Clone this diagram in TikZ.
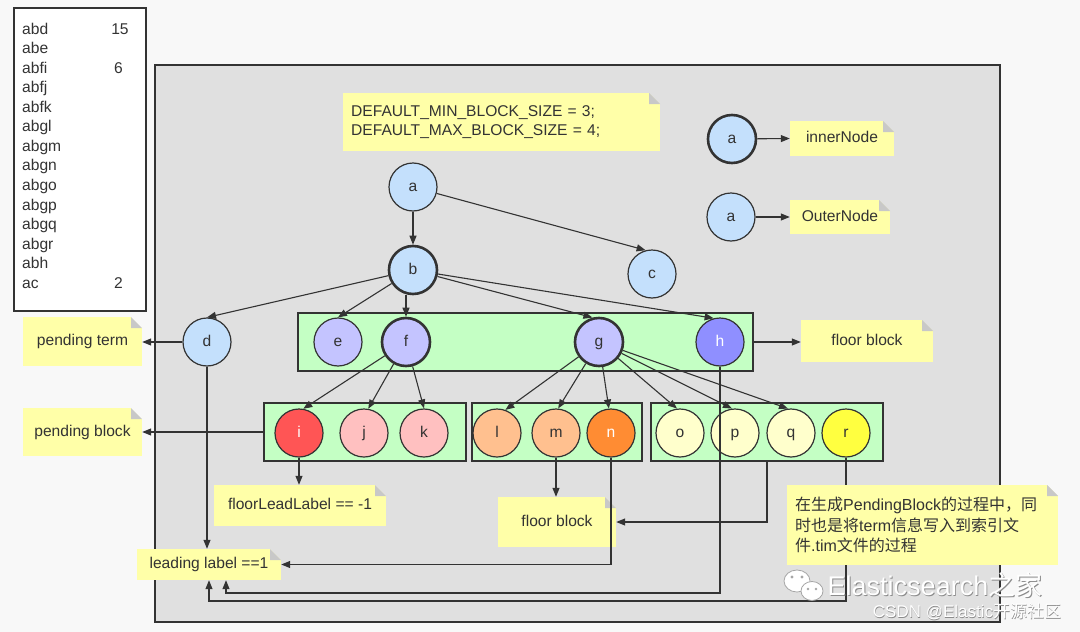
\documentclass[tikz,border=0pt]{standalone}
\usepackage{fontspec}
\setmainfont{Liberation Sans}
\newfontfamily\cjk{Noto Sans CJK SC}
\usetikzlibrary{arrows.meta}
\definecolor{bg}{HTML}{F8F8F8}
\definecolor{boxgray}{HTML}{E0E0E0}
\definecolor{edge}{HTML}{333333}
\definecolor{notey}{HTML}{FFFFA8}
\definecolor{fold}{HTML}{C8C8C8}
\definecolor{blockgreen}{HTML}{C4FFC4}
\definecolor{nblue}{HTML}{C4E0FC}
\definecolor{nlav}{HTML}{C4C4FF}
\definecolor{nh}{HTML}{8F8FFF}
\definecolor{ni}{HTML}{FF5555}
\definecolor{npink}{HTML}{FFC0C0}
\definecolor{npeach}{HTML}{FFC08F}
\definecolor{nn}{HTML}{FF8C33}
\definecolor{nyel}{HTML}{FFFFCC}
\definecolor{nr}{HTML}{FFFF40}
\begin{document}
\begin{tikzpicture}[x=1pt,y=-1pt,
  font=\fontsize{15.6}{19}\selectfont,
  tnode/.style={circle, draw=edge, line width=1.2pt, minimum size=48pt, inner sep=0pt,
    text=edge, text height=0.86em, text depth=0em},
  innerring/.style={line width=2.6pt},
  blockbox/.style={draw=edge, line width=1.2pt, fill=blockgreen, inner sep=0pt},
  arr/.style={draw=edge, line width=1.1pt, -{Triangle[length=9pt,width=7pt]}},
  notebox/.style={fill=notey, inner sep=0pt, text=edge,
    path picture={
      \fill[#1] ([xshift=-11pt]path picture bounding box.north east) --
        (path picture bounding box.north east) --
        ([yshift=-11pt]path picture bounding box.north east) -- cycle;
      \fill[fold] ([xshift=-11pt]path picture bounding box.north east) --
        ([yshift=-11pt]path picture bounding box.north east) --
        ([xshift=-11pt,yshift=-11pt]path picture bounding box.north east) -- cycle;
    }},
  notebox/.default=boxgray,
  oneline/.style={text height=0.86em, text depth=0em},
  wmtext/.style={text=white, inner sep=0pt},
  wmshadow/.style={text=black!45, inner sep=0pt}
]
\useasboundingbox (0,0) rectangle (1080,632);
\fill[bg] (0,0) rectangle (1080,632);

% term list
\draw[fill=white, draw=edge, line width=1.3pt] (14,8) rectangle (146,311);
\foreach \t [count=\k from 0] in {abd,abe,abfi,abfj,abfk,abgl,abgm,abgn,abgo,abgp,abgq,abgr,abh,ac}{
  \node[anchor=base west, inner sep=0pt, text=edge] (lst\k) at (22,{34+19.57*\k}) {\t};
}
\node[anchor=base, inner sep=0pt, text=edge] (num1) at (120,34) {15};
\node[anchor=base, inner sep=0pt, text=edge] (num2) at (118.5,73.1) {6};
\node[anchor=base, inner sep=0pt, text=edge] (num3) at (118.5,288.4) {2};

% main gray area
\draw[draw=edge, fill=boxgray, line width=1.4pt] (155,65) rectangle (1000,622);

% green blocks
\node[blockbox, minimum width=455pt, minimum height=58pt] (box1) at (525.5,342) {};
\node[blockbox, minimum width=202pt, minimum height=58pt] (box2) at (365,432) {};
\node[blockbox, minimum width=170pt, minimum height=58pt] (box3) at (557,432) {};
\node[blockbox, minimum width=232pt, minimum height=58pt] (box4) at (767,432) {};

% tree nodes
\node[tnode, fill=nblue] (a) at (413,187) {a};
\node[tnode, innerring, fill=nblue] (b) at (413,270) {b};
\node[tnode, fill=nblue] (c) at (652,274) {c};
\node[tnode, fill=nblue] (d) at (207,342) {d};
\node[tnode, fill=nlav] (e) at (338,342) {e};
\node[tnode, innerring, fill=nlav] (f) at (406,342) {f};
\node[tnode, innerring, fill=nlav] (g) at (599,342) {g};
\node[tnode, fill=nh, text=white] (h) at (720,342) {h};
\node[tnode, fill=ni, text=white] (i) at (299,433) {i};
\node[tnode, fill=npink] (j) at (364,433) {j};
\node[tnode, fill=npink] (k) at (424,433) {k};
\node[tnode, fill=npeach] (l) at (497,433) {l};
\node[tnode, fill=npeach] (m) at (556,433) {m};
\node[tnode, fill=nn, text=white] (n) at (611,433) {n};
\node[tnode, fill=nyel] (o) at (680,433) {o};
\node[tnode, fill=nyel] (p) at (735,433) {p};
\node[tnode, fill=nyel] (q) at (791,433) {q};
\node[tnode, fill=nr] (r) at (846,433) {r};

% legend nodes
\node[tnode, innerring, fill=nblue] (ia) at (732,139) {a};
\node[tnode, fill=nblue] (oa) at (731,217) {a};

% notes
\node[notebox, anchor=north west, minimum height=58pt, text width=301pt, inner xsep=8pt, align=left] (def) at (343,93)
  {DEFAULT\_MIN\_BLOCK\_SIZE = 3;\\DEFAULT\_MAX\_BLOCK\_SIZE = 4;};
\node[notebox, oneline, minimum width=104pt, minimum height=35pt] (inn) at (842,138.5) {innerNode};
\node[notebox, oneline, minimum width=100pt, minimum height=34pt] (outn) at (840,217) {OuterNode};
\node[notebox=bg, oneline, minimum width=119pt, minimum height=49pt] (pt) at (82.5,341.5) {pending term};
\node[notebox=bg, oneline, minimum width=119pt, minimum height=48pt] (pb) at (82.5,432) {pending block};
\node[notebox, oneline, minimum width=132pt, minimum height=42pt] (fb1) at (867,341) {floor block};
\node[notebox, oneline, minimum width=172pt, minimum height=41pt] (fll) at (300,505.5) {floorLeadLabel == -1};
\node[notebox, oneline, minimum width=118pt, minimum height=50pt] (fb2) at (557,522) {floor block};
\node[notebox, oneline, minimum width=144pt, minimum height=31pt] (ll) at (209,564.5) {leading label ==1};

% tree edges
\draw[arr] (a) -- (b);
\draw[arr] (a) -- (c.105);
\draw[arr] (b) -- (d.north);
\draw[arr] (b) -- (e.north);
\draw[arr] (f.north |- b.south) -- (f.north);
\draw[arr] (b) -- (g.105);
\draw[arr] (b) -- (h.105);
\draw[arr] (f) -- (i.80);
\draw[arr] (f) -- (j.80);
\draw[arr] (f) -- (k.north);
\draw[arr] (g) -- (l.70);
\draw[arr] (g) -- (m.85);
\draw[arr] (g) -- (n.95);
\draw[arr] (g) -- (o.97);
\draw[arr] (g) -- (p.97);
\draw[arr] (g) -- (q.97);

% legend edges
\draw[arr] (ia) -- (inn.west);
\draw[arr] (oa) -- (outn.west);

% note connectors
\draw[arr] (d.west) -- (d.west -| pt.east);
\draw[arr] (box2.west) -- (box2.west -| pb.east);
\draw[arr] (box1.east) -- (box1.east -| fb1.west);
\draw[arr] (i.south) -- (i.south |- fll.north);
\draw[arr] (m.south) -- (m.south |- fb2.north);
\draw[arr] (box4.south) |- (fb2.east);
\draw[arr] (n.south) |- (ll.east);
\coordinate (hc) at (720,593);
\draw[arr] (h.south) -- (hc) -| ([xshift=17pt]ll.south);
\coordinate (rc) at (846,601);
\draw[arr] (r.south) -- (rc) -| (ll.south);
\draw[arr] (d.south) -- (d.south |- ll.north);

% chinese note (on top of the r connector)
\node[notebox=bg, anchor=north west, minimum height=80pt, text width=255pt, inner xsep=8pt, align=left,
  font=\fontsize{16}{20.5}\selectfont] (cn) at (787,485)
  {{\cjk 在生成}PendingBlock{\cjk 的过程中，同}\\{\cjk 时也是将}term{\cjk 信息写入到索引文}\\{\cjk 件}.tim{\cjk 文件的过程}};

% watermark
\filldraw[fill=white, draw=black!35, line width=0.8pt] (797,581) ellipse [x radius=13, y radius=11];
\filldraw[fill=white, draw=black!35, line width=0.8pt] (812,591) ellipse [x radius=11, y radius=9.5];
\fill[black!35] (792,577) circle (1.6) (802,577) circle (1.6) (808,589) circle (1.4) (816,589) circle (1.4);
\node[wmshadow, font=\fontsize{27}{30}\selectfont] (wm1s) at (935.8,585.8) {Elasticsearch{\cjk 之家}};
\node[wmtext, font=\fontsize{27}{30}\selectfont] (wm1) at (935,585) {Elasticsearch{\cjk 之家}};
\node[wmshadow, font=\fontsize{17}{20}\selectfont] (wm2s) at (967.6,612.6) {CSDN @Elastic{\cjk 开源社区}};
\node[wmtext, font=\fontsize{17}{20}\selectfont] (wm2) at (967,612) {CSDN @Elastic{\cjk 开源社区}};
\end{tikzpicture}
\end{document}
